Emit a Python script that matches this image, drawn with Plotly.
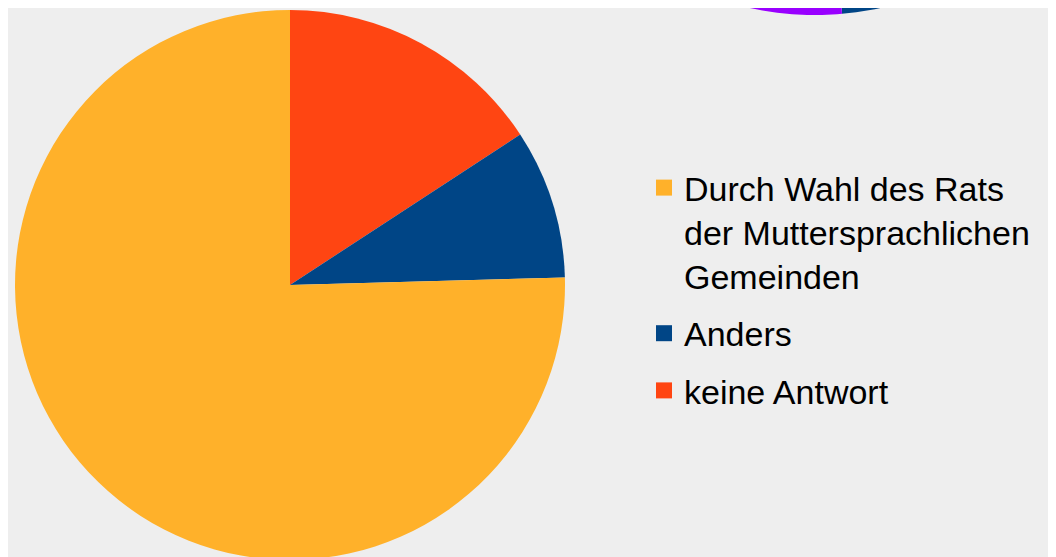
import numpy as np
import plotly.graph_objects as go

# ---- data ----
labels = ["Durch Wahl des Rats<br>der Muttersprachlichen<br>Gemeinden", "Anders", "keine Antwort"]
values = [43, 5, 9]
colors = ["#FFB12A", "#004586", "#FF4512"]

# fragment of a neighbouring pie chart (only its lower edge is visible)
frag_labels = ["Anders", "Sonstige"]
frag_shares = [0.486, 0.514]
frag_colors = ["#004586", "#9900FF"]

W, H = 1056, 557
fig = go.Figure()

# pie slices go clockwise from 12 o'clock: keine Antwort, Anders, Durch Wahl ...
fig.add_trace(go.Pie(
    labels=labels[::-1], values=values[::-1], sort=False, direction="clockwise", rotation=0,
    marker=dict(colors=colors[::-1], line=dict(width=0)),
    textinfo="none", hoverinfo="label+percent", showlegend=False,
    domain=dict(x=[7 / W, 557 / W], y=[1 - 552 / H, 1 - 2 / H]),
))

# neighbouring pie fragment drawn on a pixel-scaled hidden cartesian axis
cx, cy, R = 807, -301, 308
start = 0.0
for lab, share, col in zip(frag_labels, frag_shares, frag_colors):
    th = np.linspace(start, start + share, 200) * 2 * np.pi
    xs = np.concatenate([[cx], cx + R * np.sin(th), [cx]])
    ys = np.concatenate([[cy], cy - R * np.cos(th), [cy]])
    fig.add_trace(go.Scatter(x=xs, y=ys, fill="toself", fillcolor=col, mode="none",
                             showlegend=False, hoverinfo="skip", name=lab))
    start += share

# legend entries (square swatches) for the pie categories
for lab, col in zip(labels, colors):
    fig.add_trace(go.Scatter(x=[None], y=[None], mode="markers", name=lab, legendgroup=lab,
                             marker=dict(symbol="square", size=23, color=col)))

fig.update_layout(
    width=W, height=H,
    margin=dict(l=0, r=0, t=0, b=0),
    paper_bgcolor="#EEEEEE", plot_bgcolor="rgba(0,0,0,0)",
    font=dict(family="Liberation Sans, Arial, sans-serif", size=34, color="#000000"),
    xaxis=dict(range=[0, W], visible=False, domain=[0, 1], fixedrange=True),
    yaxis=dict(range=[H, 0], visible=False, domain=[0, 1], fixedrange=True),
    legend=dict(x=636 / W, xanchor="left", y=1 - 151 / H, yanchor="top",
                valign="top", bgcolor="rgba(0,0,0,0)", font=dict(size=34),
                itemsizing="trace", tracegroupgap=10),
    showlegend=True,
)

fig.write_html("out.html")
